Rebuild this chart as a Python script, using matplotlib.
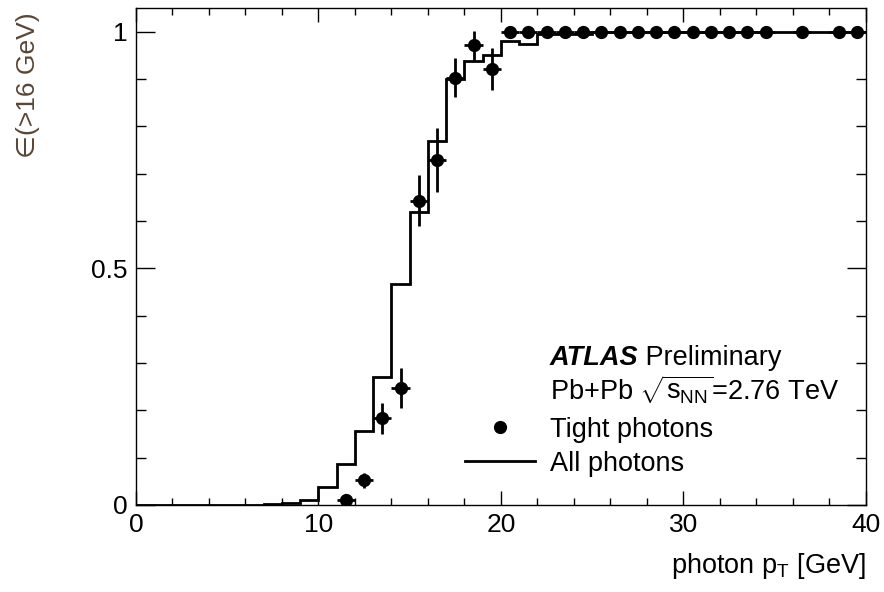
import numpy as np
import matplotlib.pyplot as plt
from matplotlib.lines import Line2D
from matplotlib.ticker import MultipleLocator

plt.rcParams['font.family'] = ['Liberation Sans', 'DejaVu Sans']
plt.rcParams['mathtext.fontset'] = 'custom'
plt.rcParams['mathtext.rm'] = 'Liberation Sans'
plt.rcParams['mathtext.it'] = 'Liberation Sans:italic'

# all photons: efficiency per 1 GeV bin, 0..40 GeV
bin_edges = np.arange(0, 41)
all_eff = [0, 0, 0, 0, 0, 0, 0, 0.003, 0.005, 0.011,
           0.037, 0.086, 0.157, 0.27, 0.466, 0.618, 0.768, 0.900, 0.939, 0.951,
           0.980, 0.974, 0.995, 0.995, 0.995, 1, 1, 1, 1, 1,
           1, 1, 1, 1, 1, 1, 1, 1, 1, 1]

# tight photons
tight_pt = [11.5, 12.5, 13.5, 14.5, 15.5, 16.5, 17.5, 18.5, 19.5,
            20.5, 21.5, 22.5, 23.5, 24.5, 25.5, 26.5, 27.5, 28.5, 29.5,
            30.5, 31.5, 32.5, 33.5, 34.5, 36.5, 38.5, 39.5]
tight_eff = [0.011, 0.052, 0.183, 0.247, 0.643, 0.729, 0.903, 0.971, 0.921,
             1, 1, 1, 1, 1, 1, 1, 1, 1, 1,
             1, 1, 1, 1, 1, 1, 1, 1]
tight_err = [0.01, 0.016, 0.033, 0.043, 0.054, 0.067, 0.042, 0.03, 0.045,
             0, 0, 0, 0, 0, 0, 0, 0, 0, 0,
             0, 0, 0, 0, 0, 0, 0, 0]
bin_half = 0.5

fig = plt.figure(figsize=(8.84, 5.92), dpi=100)
ax = fig.add_axes([0.1538, 0.147, 0.8258, 0.8395])

line = ax.stairs(all_eff, bin_edges, baseline=None, color='black', lw=2.0)
ax.errorbar(tight_pt, tight_eff, yerr=tight_err, xerr=bin_half, fmt='o',
            color='black', ms=8.5, lw=2.0, capsize=0)

ax.set_xlim(0, 40)
ax.set_ylim(0, 1.05)
ax.xaxis.set_major_locator(MultipleLocator(10))
ax.xaxis.set_minor_locator(MultipleLocator(2))
ax.yaxis.set_minor_locator(MultipleLocator(0.1))
ax.set_yticks([0, 0.5, 1])
ax.set_yticklabels(['0', '0.5', '1'])

ax.tick_params(axis='both', which='both', direction='in', top=True, right=True,
               labelsize=19, width=1)
ax.tick_params(axis='x', which='major', length=10, pad=6)
ax.tick_params(axis='x', which='minor', length=5)
ax.tick_params(axis='y', which='major', length=14, pad=6)
ax.tick_params(axis='y', which='minor', length=7)
for s in ax.spines.values():
    s.set_linewidth(1)

ax.set_xlabel(r'photon p$_{\mathrm{T}}$ [GeV]', loc='right', fontsize=19.5,
              labelpad=10)
fig.text(28 / 884, 1 - 12 / 592, '\u2208(>16 GeV)', rotation=90, fontsize=19,
         color='#5a4636', ha='center', va='top')

t1 = ax.text(0.567, 0.282, 'ATLAS', transform=ax.transAxes, fontsize=19.5,
             fontweight='bold', fontstyle='italic', va='baseline')
ax.annotate(' Preliminary', xy=(1, 0), xycoords=t1, fontsize=19.5,
            va='bottom', ha='left')
ax.text(0.567, 0.213, r'Pb+Pb $\sqrt{\mathrm{s}_{\mathrm{NN}}}$=2.76 TeV',
        transform=ax.transAxes, fontsize=19.5, va='baseline')

dot = Line2D([], [], marker='o', ls='none', color='black', ms=8.5)
ax.legend(handles=[dot, line], labels=['Tight photons', 'All photons'],
          loc='upper left', bbox_to_anchor=(0.4507, 0.178), frameon=False,
          fontsize=19.5, handlelength=2.6, handletextpad=0.55,
          labelspacing=0.3, borderaxespad=0, borderpad=0)

fig.savefig('out.png', dpi=100)
